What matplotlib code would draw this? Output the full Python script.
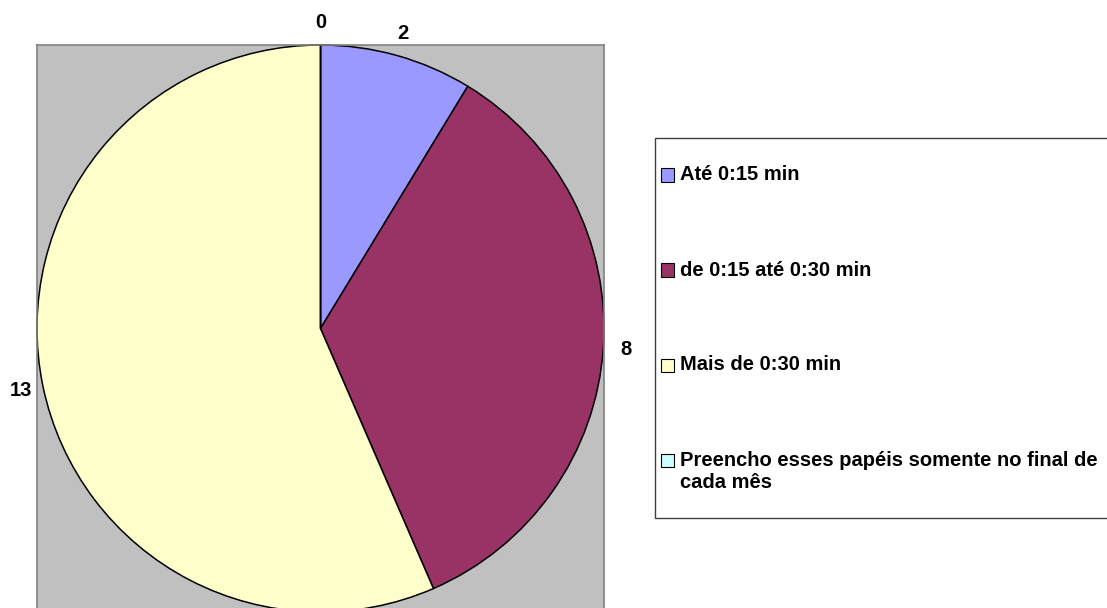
import numpy as np
import matplotlib
matplotlib.use('Agg')
import matplotlib.pyplot as plt
from matplotlib.patches import Rectangle

# Dados do gráfico
categorias = ['Até 0:15 min', 'de 0:15 até 0:30 min', 'Mais de 0:30 min',
              'Preencho esses papéis somente no final de\ncada mês']
valores = [2, 8, 13, 0]
cores = ['#9999FF', '#993366', '#FFFFCC', '#CCFFFF']

plt.rcParams['font.family'] = ['Liberation Sans', 'DejaVu Sans']
plt.rcParams['font.weight'] = 'bold'

W, H = 1107, 608
fig = plt.figure(figsize=(W / 100, H / 100), dpi=100)

# Área do gráfico (em pixels: esquerda 37, topo 45, lado 567)
lado = 567
ax = fig.add_axes([37 / W, (H - 45 - lado) / H, lado / W, lado / H])

wedges, textos = ax.pie(valores, colors=cores, startangle=90, counterclock=False,
                        radius=1, labels=[str(v) for v in valores], labeldistance=1.08,
                        wedgeprops=dict(edgecolor='black', linewidth=1.1),
                        textprops=dict(fontsize=14.5, fontweight='bold'), frame=True)
for t in textos:
    t.set_ha('center')
    t.set_va('center')
    t.set_clip_on(False)

ax.set_xlim(-1, 1)
ax.set_ylim(-1, 1)
ax.set_facecolor('#C0C0C0')
ax.set_xticks([])
ax.set_yticks([])
for s in ax.spines.values():
    s.set_edgecolor('#808080')
    s.set_linewidth(1.2)

# Legenda desenhada à mão
fig.patches.append(Rectangle((655 / W, (H - 518) / H), 500 / W, 380 / H,
                             transform=fig.transFigure, facecolor='white',
                             edgecolor='#404040', linewidth=1, zorder=1))
ys = [175, 270, 365, 471]
for cat, cor, y in zip(categorias, cores, ys):
    ym = y if '\n' not in cat else y - 11
    fig.patches.append(Rectangle((661 / W, (H - ym - 6.5) / H), 13 / W, 13 / H,
                                 transform=fig.transFigure, facecolor=cor,
                                 edgecolor='black', linewidth=0.8, zorder=2))
    fig.text(680 / W, (H - y) / H, cat, fontsize=14.5, fontweight='bold',
             ha='left', va='center', linespacing=1.2, zorder=3)

plt.savefig('out.png', dpi=100)
